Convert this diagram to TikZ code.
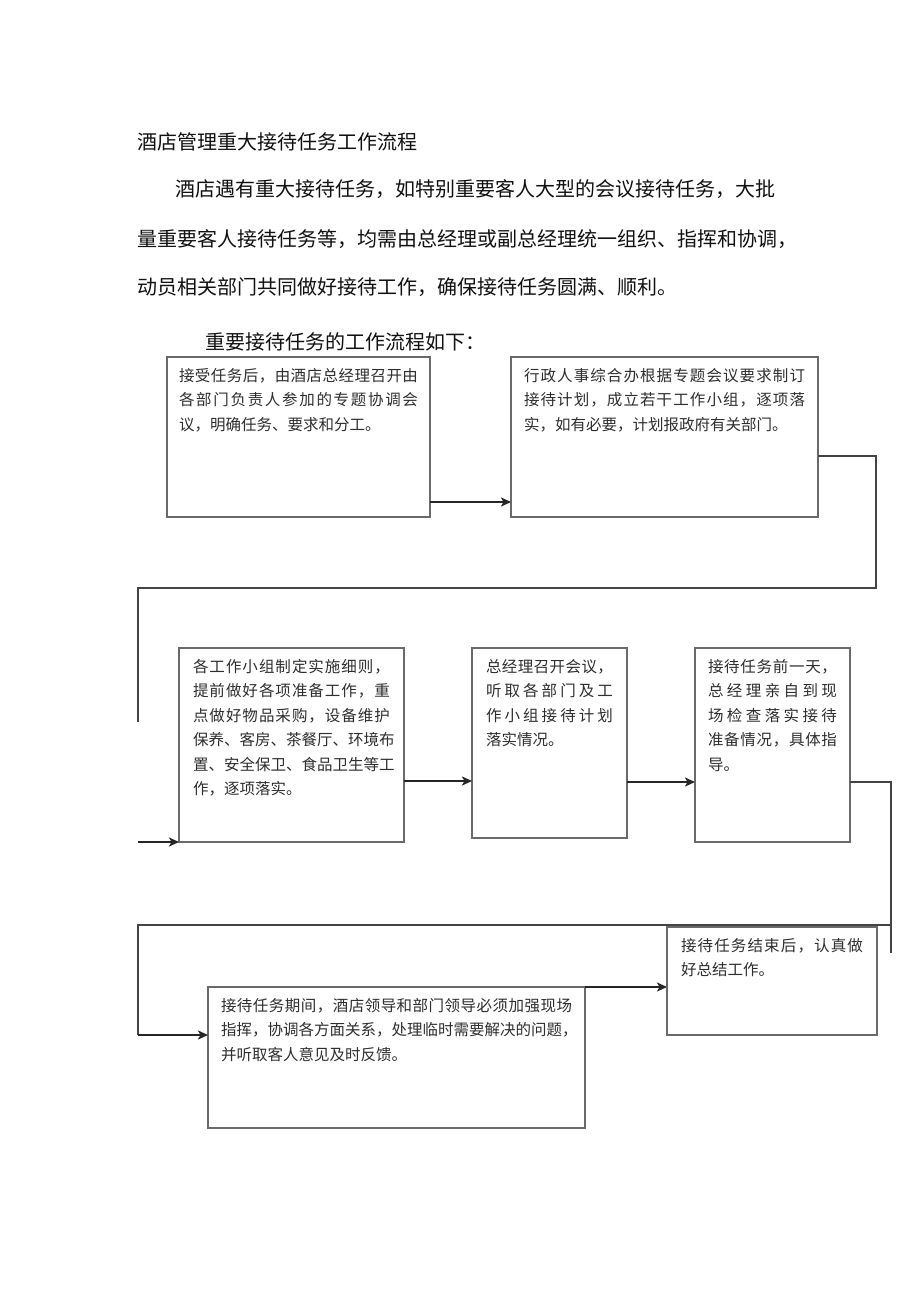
\documentclass[tikz,border=0pt]{standalone}
\usepackage{fontspec}
\setmainfont{Noto Sans CJK SC}
\usetikzlibrary{arrows.meta}
\definecolor{boxgray}{HTML}{6A6A6A}
\definecolor{linegray}{HTML}{444444}
\definecolor{boxtxt}{HTML}{2E2E2E}
\definecolor{toptxt}{HTML}{111111}
\ExplSyntaxOn
\NewDocumentCommand\jline{mm}{\makebox[#1pt][s]{\tl_map_inline:nn{#2}{##1\hfil}\unskip}\\}
\ExplSyntaxOff
\newcommand\btext[3]{\parbox[c][#2pt][t]{#1pt}{#3}}
\begin{document}
\begin{tikzpicture}[x=1pt,y=-1pt,
  toptext/.style={anchor=west,inner sep=0pt,text=toptxt,font=\fontsize{20}{24}\selectfont},
  flowbox/.style={draw=boxgray,line width=1.5pt,anchor=north west,inner xsep=#1pt,inner ysep=11pt,outer sep=0pt,
     text=boxtxt,font=\fontsize{15.5}{24.5}\selectfont},
  flowbox/.default=13,
  conn/.style={draw=linegray,line width=1.8pt},
  arr/.style={draw=black!85,line width=1.8pt,-{Stealth[length=10pt,width=9pt,inset=2.5pt]}}]
\fill[white] (0,0) rectangle (920,1301);
\useasboundingbox (0,0) rectangle (920,1301);

\node[toptext] (t0) at (137,142) {酒店管理重大接待任务工作流程};
\node[toptext] (t1) at (175,189) {酒店遇有重大接待任务，如特别重要客人大型的会议接待任务，大批};
\node[toptext] (t2) at (137,239) {量重要客人接待任务等，均需由总经理或副总经理统一组织、指挥和协调，};
\node[toptext] (t3) at (137,287) {动员相关部门共同做好接待工作，确保接待任务圆满、顺利。};
\node[toptext] (t4) at (205,342) {重要接待任务的工作流程如下：};

\node[flowbox=12] (b1) at (167,357) {\btext{239}{138}{%
\jline{239}{接受任务后，由酒店总经理召开由}%
\jline{239}{各部门负责人参加的专题协调会}%
议，明确任务、要求和分工。}};
\node[flowbox=13] (b2) at (511,357) {\btext{281}{138}{%
\jline{281}{行政人事综合办根据专题会议要求制订}%
\jline{281}{接待计划，成立若干工作小组，逐项落}%
实，如有必要，计划报政府有关部门。}};
\node[flowbox=14] (b3) at (179,648) {\btext{197}{172}{%
\jline{197}{各工作小组制定实施细则，}%
\jline{197}{提前做好各项准备工作，重}%
\jline{197}{点做好物品采购，设备维护}%
\jline{197}{保养、客房、茶餐厅、环境布}%
\jline{197}{置、安全保卫、食品卫生等工}%
作，逐项落实。}};
\node[flowbox=14] (b4) at (472,648) {\btext{127}{168}{%
\jline{127}{总经理召开会议，}%
\jline{127}{听取各部门及工}%
\jline{127}{作小组接待计划}%
落实情况。}};
\node[flowbox=13] (b5) at (695,648) {\btext{129}{172}{%
\jline{129}{接待任务前一天，}%
\jline{129}{总经理亲自到现}%
\jline{129}{场检查落实接待}%
\jline{129}{准备情况，具体指}%
导。}};
\node[flowbox=14] (b6) at (667,927) {\btext{182}{86}{%
\jline{182}{接待任务结束后，认真做}%
好总结工作。}};
\node[flowbox=13] (b7) at (208,987) {\btext{351}{119}{%
\jline{351}{接待任务期间，酒店领导和部门领导必须加强现场}%
\jline{351}{指挥，协调各方面关系，处理临时需要解决的问题，}%
并听取客人意见及时反馈。}};

% level coordinates
\coordinate (y12) at (0,502);
\coordinate (y23) at (0,456);
\coordinate (k1) at (876,456);
\coordinate (k2) at (876,588);
\coordinate (k3) at (138,588);
\coordinate (k4) at (138,722);
\coordinate (k5) at (138,842);
\coordinate (y34) at (0,781);
\coordinate (y45) at (0,782);
\coordinate (m1) at (891,782);
\coordinate (m2) at (891,953);
\coordinate (m3) at (891,925);
\coordinate (m4) at (138,925);
\coordinate (m5) at (138,1035);
\coordinate (y76) at (0,987);

\draw[arr] (b1.east |- y12) -- (b2.west |- y12);
\draw[conn] (b2.east |- y23) -- (k1) -- (k2) -- (k3) -- (k4);
\draw[arr] (k5) -- (b3.west |- k5);
\draw[arr] (b3.east |- y34) -- (b4.west |- y34);
\draw[arr] (b4.east |- y45) -- (b5.west |- y45);
\draw[conn] (b5.east |- y45) -- (m1) -- (m2);
\draw[conn] (m3) -- (m4) -- (m5);
\draw[arr] (m5) -- (b7.west |- m5);
\draw[arr] (b7.north east) -- (b6.west |- y76);
\end{tikzpicture}
\end{document}
